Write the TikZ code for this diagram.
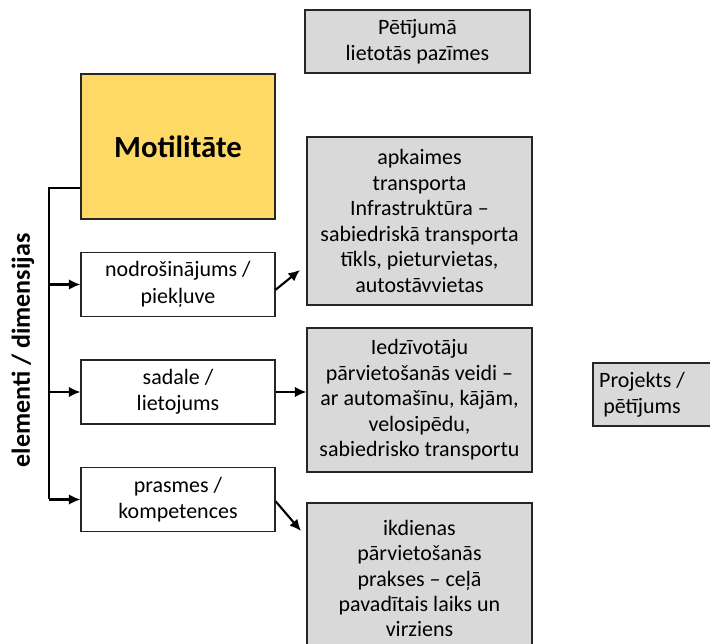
\documentclass[tikz,border=0pt]{standalone}
\usepackage{fontspec}
\setmainfont{Carlito}
\usetikzlibrary{arrows.meta}
\definecolor{motgold}{HTML}{FFD966}
\definecolor{signgray}{HTML}{D9D9D9}

\begin{document}
\begin{tikzpicture}[x=0.02cm,y=-0.02cm,
  signbox/.style={draw=black!85,fill=signgray,line width=0.7pt,align=center,font=\fontsize{12.5}{14.5}\selectfont},
  dimbox/.style={draw=black!85,fill=white,line width=0.7pt,align=center,minimum width=3.88cm,minimum height=1.28cm,font=\fontsize{12.5}{15}\selectfont},
  branch/.style={line width=1.2pt,-{Latex[length=2.3mm,width=2.1mm]}}]

\useasboundingbox (0,0) rectangle (710,644);
\clip (0,0) rectangle (710,644);

\node[signbox,minimum width=4.5cm,minimum height=1.26cm] (sign) at (417.5,41.5) {Pētījumā\\lietotās pazīmes};

\node[draw=black!85,fill=motgold,line width=0.7pt,minimum width=3.88cm,minimum height=2.9cm,font=\bfseries\fontsize{17.5}{20}\selectfont] (mot) at (178,146.5) {Motilitāte};

\node[dimbox] (acc) at (178,284.5) {nodrošinājums /\\piekļuve};
\node[dimbox] (use) at (178,392) {sadale /\\lietojums};
\node[dimbox] (skill) at (178,499.5) {prasmes /\\kompetences};

\node[rotate=90,font=\bfseries\fontsize{14.8}{16}\selectfont] (dimlabel) at (23,350.5) {elementi / dimensijas};

\node[signbox,minimum width=4.5cm,minimum height=3.36cm] (infra) at (419.5,221) {apkaimes\\transporta\\Infrastruktūra --\\sabiedriskā transporta\\tīkls, pieturvietas,\\autostāvvietas};
\node[signbox,minimum width=4.5cm,minimum height=2.88cm] (mode) at (419.5,400) {Iedzīvotāju\\pārvietošanās veidi --\\ar automašīnu, kājām,\\velosipēdu,\\sabiedrisko transportu};
\node[signbox,minimum width=4.5cm,minimum height=3.02cm] (habit) at (419.5,578.5) {ikdienas\\pārvietošanās\\prakses -- ceļā\\pavadītais laiks un\\virziens};

\draw[draw=black!85,fill=signgray,line width=0.7pt] (593,363) rectangle (730,426);
\node[align=center,font=\fontsize{12.5}{15}\selectfont] (proj) at (642,394.5) {Projekts /\\pētījums};

\coordinate (spine) at (49,187.7);
\coordinate (infratip) at (300,270);
\coordinate (habittip) at (301,531);

\draw[line width=1.3pt] (mot.west |- spine) -- (spine) -- (spine |- skill);
\draw[branch] (spine |- acc) -- (acc.west);
\draw[branch] (spine |- use) -- (use.west);
\draw[branch] (spine |- skill) -- (skill.west);

\draw[branch] ([yshift=-3pt]acc.east) -- (infratip);
\draw[branch] (use.east) -- (use.east -| mode.west);
\draw[branch] ([yshift=-1pt]skill.east) -- (habittip);

\end{tikzpicture}
\end{document}
